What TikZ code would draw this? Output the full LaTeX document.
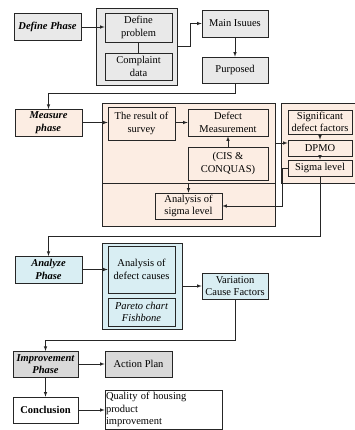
\documentclass[tikz,border=0pt]{standalone}
\usepackage{fontspec}
\setmainfont{Liberation Serif}
\usepackage{tikz}
\usetikzlibrary{arrows}
\definecolor{defgray}{HTML}{E9E9E9}
\definecolor{measpeach}{HTML}{FCEDE3}
\definecolor{analblue}{HTML}{D9EEF3}
\definecolor{impgray}{HTML}{D9D9D9}
\tikzset{
  every node/.style={font=\fontsize{10.5}{12.5}\selectfont},
  phase/.style={draw=black!85, line width=0.6pt, align=center, inner sep=1pt,
    font=\fontsize{10.5}{12.5}\selectfont\bfseries\itshape},
  stepbox/.style={draw=black!85, line width=0.6pt, align=center, inner sep=1pt},
  group/.style={draw=black!85, line width=0.6pt, inner sep=0pt},
  link/.style={draw=black!85, line width=0.6pt, -latex},
}

\begin{document}
\begin{tikzpicture}[x=1pt,y=-1pt]
\useasboundingbox (0,0) rectangle (354,430);

% define phase
\node[group, fill=defgray, minimum width=81, minimum height=77] (definebox) at (136.5,46.5) {};
\node[phase, fill=defgray, minimum width=67, minimum height=27] (definephase) at (47.5,27) {Define Phase};
\node[stepbox, fill=defgray, minimum width=67, minimum height=29] (defprob) at (138.5,27.5) {Define\\problem};
\node[stepbox, fill=defgray, minimum width=67, minimum height=27] (complaint) at (138.5,66.5) {Complaint\\data};
\node[stepbox, fill=defgray, minimum width=66, minimum height=27] (mainiss) at (235,23.5) {Main Isuues};
\node[stepbox, fill=defgray, minimum width=66, minimum height=26] (purposed) at (235,70) {Purposed};

\draw[link] (definephase.east) -- (definephase.east -| defprob.west);
\draw[draw=black!85, line width=0.6pt] (defprob.south) -- (complaint.north);
\draw[link] (definebox.east) -- ++(13,0) |- (mainiss.west);
\draw[link] (mainiss.south) -- (purposed.south |- purposed.north);
\draw[link] (purposed.south) -- ++(0,10) -| (48.5,109);

% measure phase
\node[group, fill=measpeach, minimum width=173, minimum height=123] (measurebox) at (188.5,164.5) {};
\draw[draw=black!85, line width=0.6pt] (102,183) -- (275,183);
\node[group, fill=measpeach, minimum width=80, minimum height=80] (rightbox) at (321,143) {};
\node[phase, fill=measpeach, minimum width=67, minimum height=27] (measurephase) at (48.5,122.5) {Measure\\phase};
\node[stepbox, fill=measpeach, minimum width=67, minimum height=33] (survey) at (141.5,123.5) {The result of\\survey};
\node[stepbox, fill=measpeach, minimum width=80, minimum height=27] (defmeas) at (228,122.5) {Defect\\Measurement};
\node[stepbox, fill=measpeach, minimum width=80, minimum height=33] (cis) at (228,163.5) {(CIS \&\\CONQUAS)};
\node[stepbox, fill=measpeach, minimum width=67, minimum height=26] (sigmaanal) at (188.5,206) {Analysis of\\sigma level};
\node[stepbox, fill=measpeach, minimum width=64, minimum height=24] (sigfac) at (320,122) {Significant\\defect factors};
\node[stepbox, fill=measpeach, minimum width=64, minimum height=16] (dpmo) at (320,148) {DPMO};
\node[stepbox, fill=measpeach, minimum width=64, minimum height=16] (sigmalev) at (320,168) {Sigma level};

\draw[link] (measurephase.east) -- (measurephase.east -| survey.west);
\draw[link] (survey.east |- defmeas.west) -- (defmeas.west);
\draw[link] (cis.north) -- (defmeas.south);
\draw[link] ([yshift=5pt]measurebox.east |- dpmo.west) -- ([yshift=5pt]dpmo.west);
\draw[link] (sigfac.south) -- (dpmo.north);
\draw[link] (dpmo.south) -- (sigmalev.north);
\draw[link] (sigmaanal.north |- 0,183) -- (sigmaanal.north);
\draw[link] (sigmalev.west) -- ++(-5,0) |- (sigmaanal.east);
\draw[link] (sigmalev.south) -- (sigmalev.south |- 0,236) -| (48.5,256);

% analyze phase
\node[group, fill=analblue, minimum width=80, minimum height=86] (analyzebox) at (142,286) {};
\node[phase, fill=analblue, minimum width=67, minimum height=27] (analyzephase) at (48.5,269.5) {Analyze\\Phase};
\node[stepbox, fill=analblue, minimum width=67, minimum height=47] (causes) at (141.5,269.5) {Analysis of\\defect causes};
\node[stepbox, fill=analblue, minimum width=67, minimum height=28,
  font=\fontsize{10.5}{12.5}\selectfont\itshape] (pareto) at (141.5,312) {Pareto chart\\Fishbone};
\node[stepbox, fill=analblue, minimum width=66, minimum height=26] (variation) at (235,286) {Variation\\Cause Factors};

\draw[link] (analyzephase.east) -- (causes.west);
\draw[link] (analyzebox.east) -- (variation.west);
\draw[link] (variation.south) -- ++(0,41) -| (45.5,351);

% improvement phase
\node[phase, fill=impgray, minimum width=65, minimum height=26] (improvphase) at (45.5,364) {Improvement\\Phase};
\node[stepbox, fill=impgray, minimum width=67, minimum height=26] (actionplan) at (138.5,364) {Action Plan};
\node[stepbox, fill=white, minimum width=65, minimum height=26,
  font=\fontsize{10.5}{12.5}\selectfont\bfseries] (conclusion) at (45.5,410) {Conclusion};
\node[stepbox, fill=white, text width=115, align=left, minimum height=39] (quality) at (163.5,409.5) {Quality of housing\\product\\improvement};

\draw[link] (improvphase.east) -- (actionplan.west);
\draw[link] (improvphase.south) -- (conclusion.north);
\draw[link] (conclusion.east) -- (conclusion.east -| quality.west);
\end{tikzpicture}
\end{document}
